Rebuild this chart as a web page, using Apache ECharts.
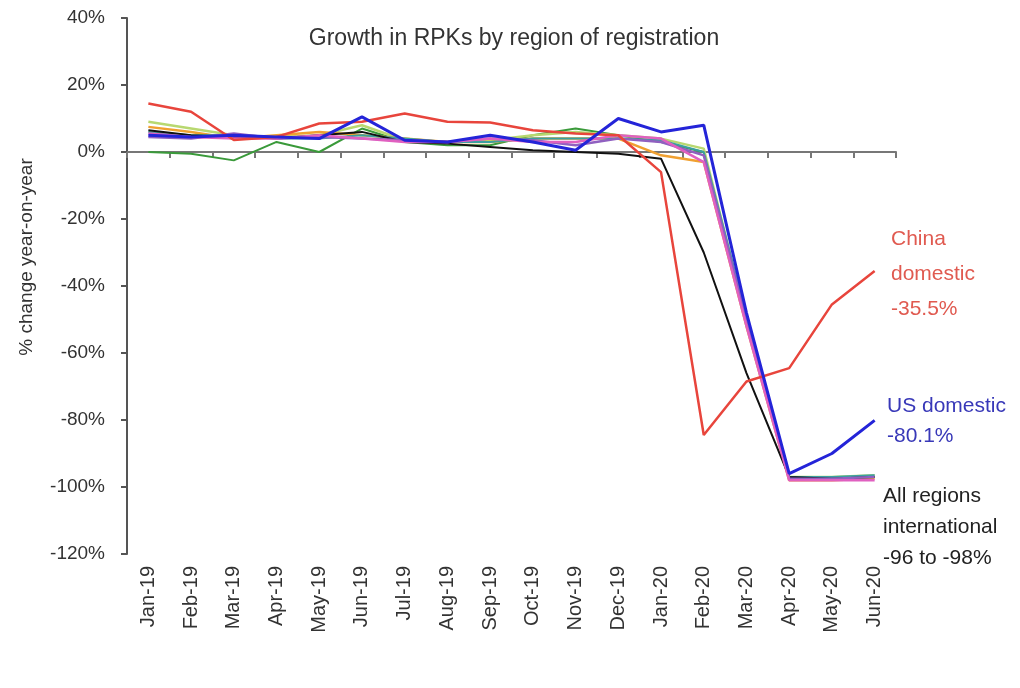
<!DOCTYPE html>
<html>
<head>
<meta charset="utf-8">
<script src="https://cdn.jsdelivr.net/npm/echarts@6/dist/echarts.min.js"></script>
<style>
  html, body { margin: 0; padding: 0; background: #fff; }
  #chart { width: 1020px; height: 688px; }
</style>
</head>
<body>
<div id="chart"></div>
<script>
'use strict';

var months = ['Jan-19', 'Feb-19', 'Mar-19', 'Apr-19', 'May-19', 'Jun-19', 'Jul-19', 'Aug-19', 'Sep-19',
    'Oct-19', 'Nov-19', 'Dec-19', 'Jan-20', 'Feb-20', 'Mar-20', 'Apr-20', 'May-20', 'Jun-20'];

// % change year-on-year
var chinaDomestic = [14.5, 12, 3.6, 4.5, 8.5, 9, 11.5, 9, 8.8, 6.5, 5.5, 5, -6, -84.5, -68.5, -64.5, -45.5, -35.5];
var usDomestic = [5, 4.5, 5, 4.5, 4, 10.5, 3.5, 3, 5, 3, 0.5, 10, 6, 8, -48, -96, -90, -80.1];
var allIntl = [6.5, 5, 4.5, 4, 5, 6, 3, 2.5, 1.5, 0.5, 0, -0.5, -2, -30, -66, -97, -97.5, -97];
var darkGreen = [0, -0.5, -2.5, 3, 0, 7, 3, 2, 2, 5, 7, 5, 3, 0, -50, -97, -97.5, -97];
var lightGreen = [9, 7, 5, 4.5, 5, 8, 3.5, 3, 3.5, 5, 6, 5, 4, 1, -50, -97, -97, -96.5];
var orange = [7.5, 6, 4, 5, 6, 5, 4, 3, 3, 4, 4, 4, -1, -3, -52, -98, -98, -97.5];
var teal = [6, 5, 5, 4, 4, 5, 4, 3, 3, 4, 4, 4, 3.5, 0, -49, -97, -97, -96.5];
var purple = [4.5, 4, 5.5, 4, 4.5, 4, 3.5, 3, 4, 3.5, 2, 4, 3, -1, -50, -97.5, -97.5, -97];
var pink = [5.5, 4.5, 4, 4, 5, 4, 3, 3, 4, 3, 3, 5, 4, -3, -52, -98, -98, -98];

var yTicks = [40, 20, 0, -20, -40, -60, -80, -100, -120];

var font = "'Liberation Sans', Arial, sans-serif";

function line(name, data, color, width) {
    return {
        name: name,
        type: 'line',
        data: data,
        symbol: 'none',
        lineStyle: { color: color, width: width },
        itemStyle: { color: color },
        z: 2
    };
}

var chart = echarts.init(document.getElementById('chart'));

var option = {
    animation: false,
    title: {
        text: 'Growth in RPKs by region of registration',
        left: 509,
        top: 22,
        textAlign: 'center',
        textStyle: { fontFamily: font, fontSize: 23, fontWeight: 'normal', color: '#333' }
    },
    grid: { left: 127, right: 124, top: 18, bottom: 134 },
    xAxis: [{
        type: 'category',
        data: months,
        axisLine: { show: false, onZero: false },
        axisTick: { show: false },
        axisLabel: {
            rotate: 90,
            interval: 0,
            margin: 12,
            color: '#333',
            fontFamily: font,
            fontSize: 20
        }
    }, {
        type: 'category',
        data: months,
        position: 'bottom',
        axisLine: { show: true, onZero: true, lineStyle: { color: '#777', width: 2 } },
        axisTick: { show: true, interval: 0, length: 6, lineStyle: { color: '#777', width: 2 } },
        axisLabel: { show: false }
    }],
    yAxis: {
        type: 'value',
        min: yTicks[yTicks.length - 1],
        max: yTicks[0],
        interval: 20,
        axisLine: { show: true, lineStyle: { color: '#555', width: 2 } },
        axisTick: { show: true, length: 6, lineStyle: { color: '#555', width: 2 } },
        splitLine: { show: false },
        axisLabel: {
            margin: 22,
            color: '#333',
            fontFamily: font,
            fontSize: 19,
            formatter: '{value}%'
        }
    },
    graphic: [{
        type: 'text',
        x: 27,
        y: 257,
        rotation: Math.PI / 2,
        style: {
            text: '% change year-on-year',
            fill: '#333',
            font: '19px ' + font,
            align: 'center',
            verticalAlign: 'middle'
        }
    }, {
        type: 'text',
        left: 891,
        top: 222,
        style: {
            text: 'China\ndomestic\n-35.5%',
            fill: '#e05a50',
            font: '21px ' + font,
            lineHeight: 35
        }
    }, {
        type: 'text',
        left: 887,
        top: 391,
        style: {
            text: 'US domestic\n-80.1%',
            fill: '#3838b8',
            font: '21px ' + font,
            lineHeight: 30
        }
    }, {
        type: 'text',
        left: 883,
        top: 481,
        style: {
            text: 'All regions\ninternational\n-96 to -98%',
            fill: '#222',
            font: '21px ' + font,
            lineHeight: 31
        }
    }],
    series: [
        line('Region A', darkGreen, '#3a9a3a', 2),
        line('Region B', lightGreen, '#b8d870', 2.5),
        line('Region C', orange, '#f0a030', 2.5),
        line('Region D', teal, '#3aa0a0', 2),
        line('All regions international', allIntl, '#111', 2),
        line('Region E', purple, '#9060c0', 2.5),
        line('Region F', pink, '#e060c0', 2.5),
        line('China domestic', chinaDomestic, '#e8453c', 2.5),
        line('US domestic', usDomestic, '#2424d8', 3)
    ]
};

chart.setOption(option);
</script>
</body>
</html>
